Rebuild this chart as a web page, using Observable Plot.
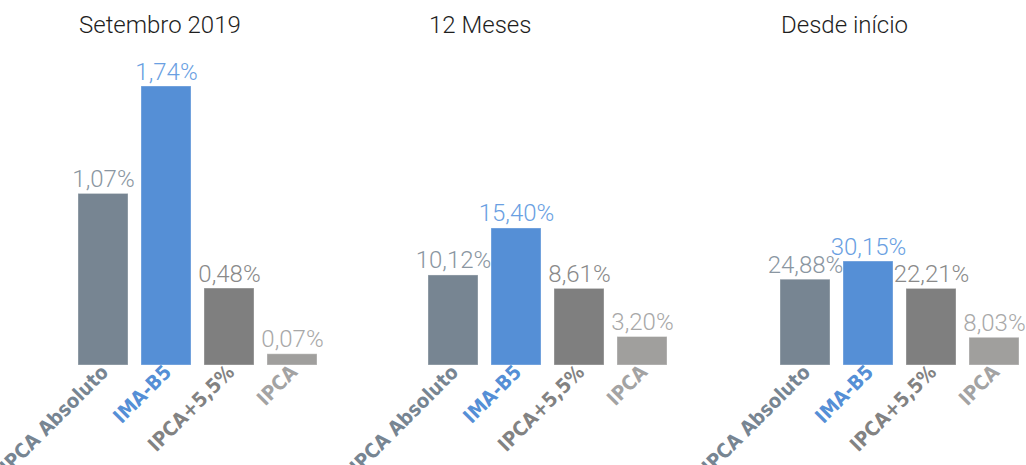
<!DOCTYPE html>
<html>
<head>
<meta charset="utf-8">
<script src="https://cdn.jsdelivr.net/npm/d3@7"></script>
<script src="https://cdn.jsdelivr.net/npm/@observablehq/plot@0.6"></script>
<style>
  html, body { margin: 0; padding: 0; background: #fff; overflow: hidden; }
  #root { position: relative; width: 1026px; height: 465px; overflow: hidden; }
  .panel { position: absolute; top: 0; width: 324px; height: 465px; }
  .title { position: absolute; top: 11px; font-family: Roboto, "Open Sans", sans-serif; font-weight: 300; font-size: 24px; color: #1e1e1e; white-space: nowrap; }
  .panel svg { position: absolute; top: 50px; left: 0; overflow: visible; max-width: none !important; }
</style>
</head>
<body>
<div id="root"></div>
<script>
const categories = ["IPCA Absoluto", "IMA-B5", "IPCA+5,5%", "IPCA"];
const panelTitles = ["Setembro 2019", "12 Meses", "Desde início"];
const setembro2019 = [1.07, 1.74, 0.48, 0.07];
const dozeMeses = [10.12, 15.40, 8.61, 3.20];
const desdeInicio = [24.88, 30.15, 22.21, 8.03];
const barColors = ["#778592", "#558fd6", "#7f7f7f", "#a09f9d"];
const labelColors = ["#8a96a1", "#6a9fe2", "#8a8a8a", "#a8a8a8"];
const axisColors = ["#778592", "#558fd6", "#828282", "#a3a3a3"];

const series = [setembro2019, dozeMeses, desdeInicio];
// y-scale domain maximum for each independent panel
const yDomainMax = [1.74, 31.36, 80.9];
const panelLeft = [0, 350, 702];

const fmt = v => d3.format(".2f")(v).replace(".", ",") + "%";
const root = document.getElementById("root");

series.forEach((values, i) => {
  const data = categories.map((c, j) => ({
    cat: c, value: values[j], color: barColors[j], label: labelColors[j], axis: axisColors[j]
  }));
  const panel = document.createElement("div");
  panel.className = "panel";
  panel.style.left = panelLeft[i] + "px";
  const title = document.createElement("div");
  title.className = "title";
  title.style.left = "79px";
  title.textContent = panelTitles[i];
  panel.appendChild(title);

  const chart = Plot.plot({
    width: 324,
    height: 415,
    marginLeft: 77,
    marginRight: 6,
    marginTop: 36,
    marginBottom: 100,
    x: {domain: categories, paddingInner: 0.213, paddingOuter: 0, axis: null},
    y: {domain: [0, yDomainMax[i]], axis: null},
    color: {type: "identity"},
    style: {background: "transparent", overflow: "visible"},
    marks: [
      Plot.barY(data, {x: "cat", y: "value", fill: d => d.color, stroke: "#ffffff", strokeOpacity: 0.35, strokeWidth: 1}),
      Plot.text(data, {
        x: "cat", y: "value", text: d => fmt(d.value), fill: d => d.label,
        lineAnchor: "bottom", dy: -7, fontSize: 24, fontWeight: 300,
        fontFamily: "Roboto, 'Open Sans', sans-serif"
      }),
      Plot.text(data, {
        x: "cat", text: "cat", fill: d => d.axis, frameAnchor: "bottom",
        rotate: -45, textAnchor: "end", dy: 8, dx: 6,
        fontSize: 20, fontWeight: "bold",
        fontFamily: "'DejaVu Sans Condensed', 'Liberation Sans Narrow', sans-serif"
      })
    ]
  });
  chart.setAttribute("width", 324);
  chart.style.width = "324px";
  panel.appendChild(chart);
  root.appendChild(panel);
});
</script>
</body>
</html>
